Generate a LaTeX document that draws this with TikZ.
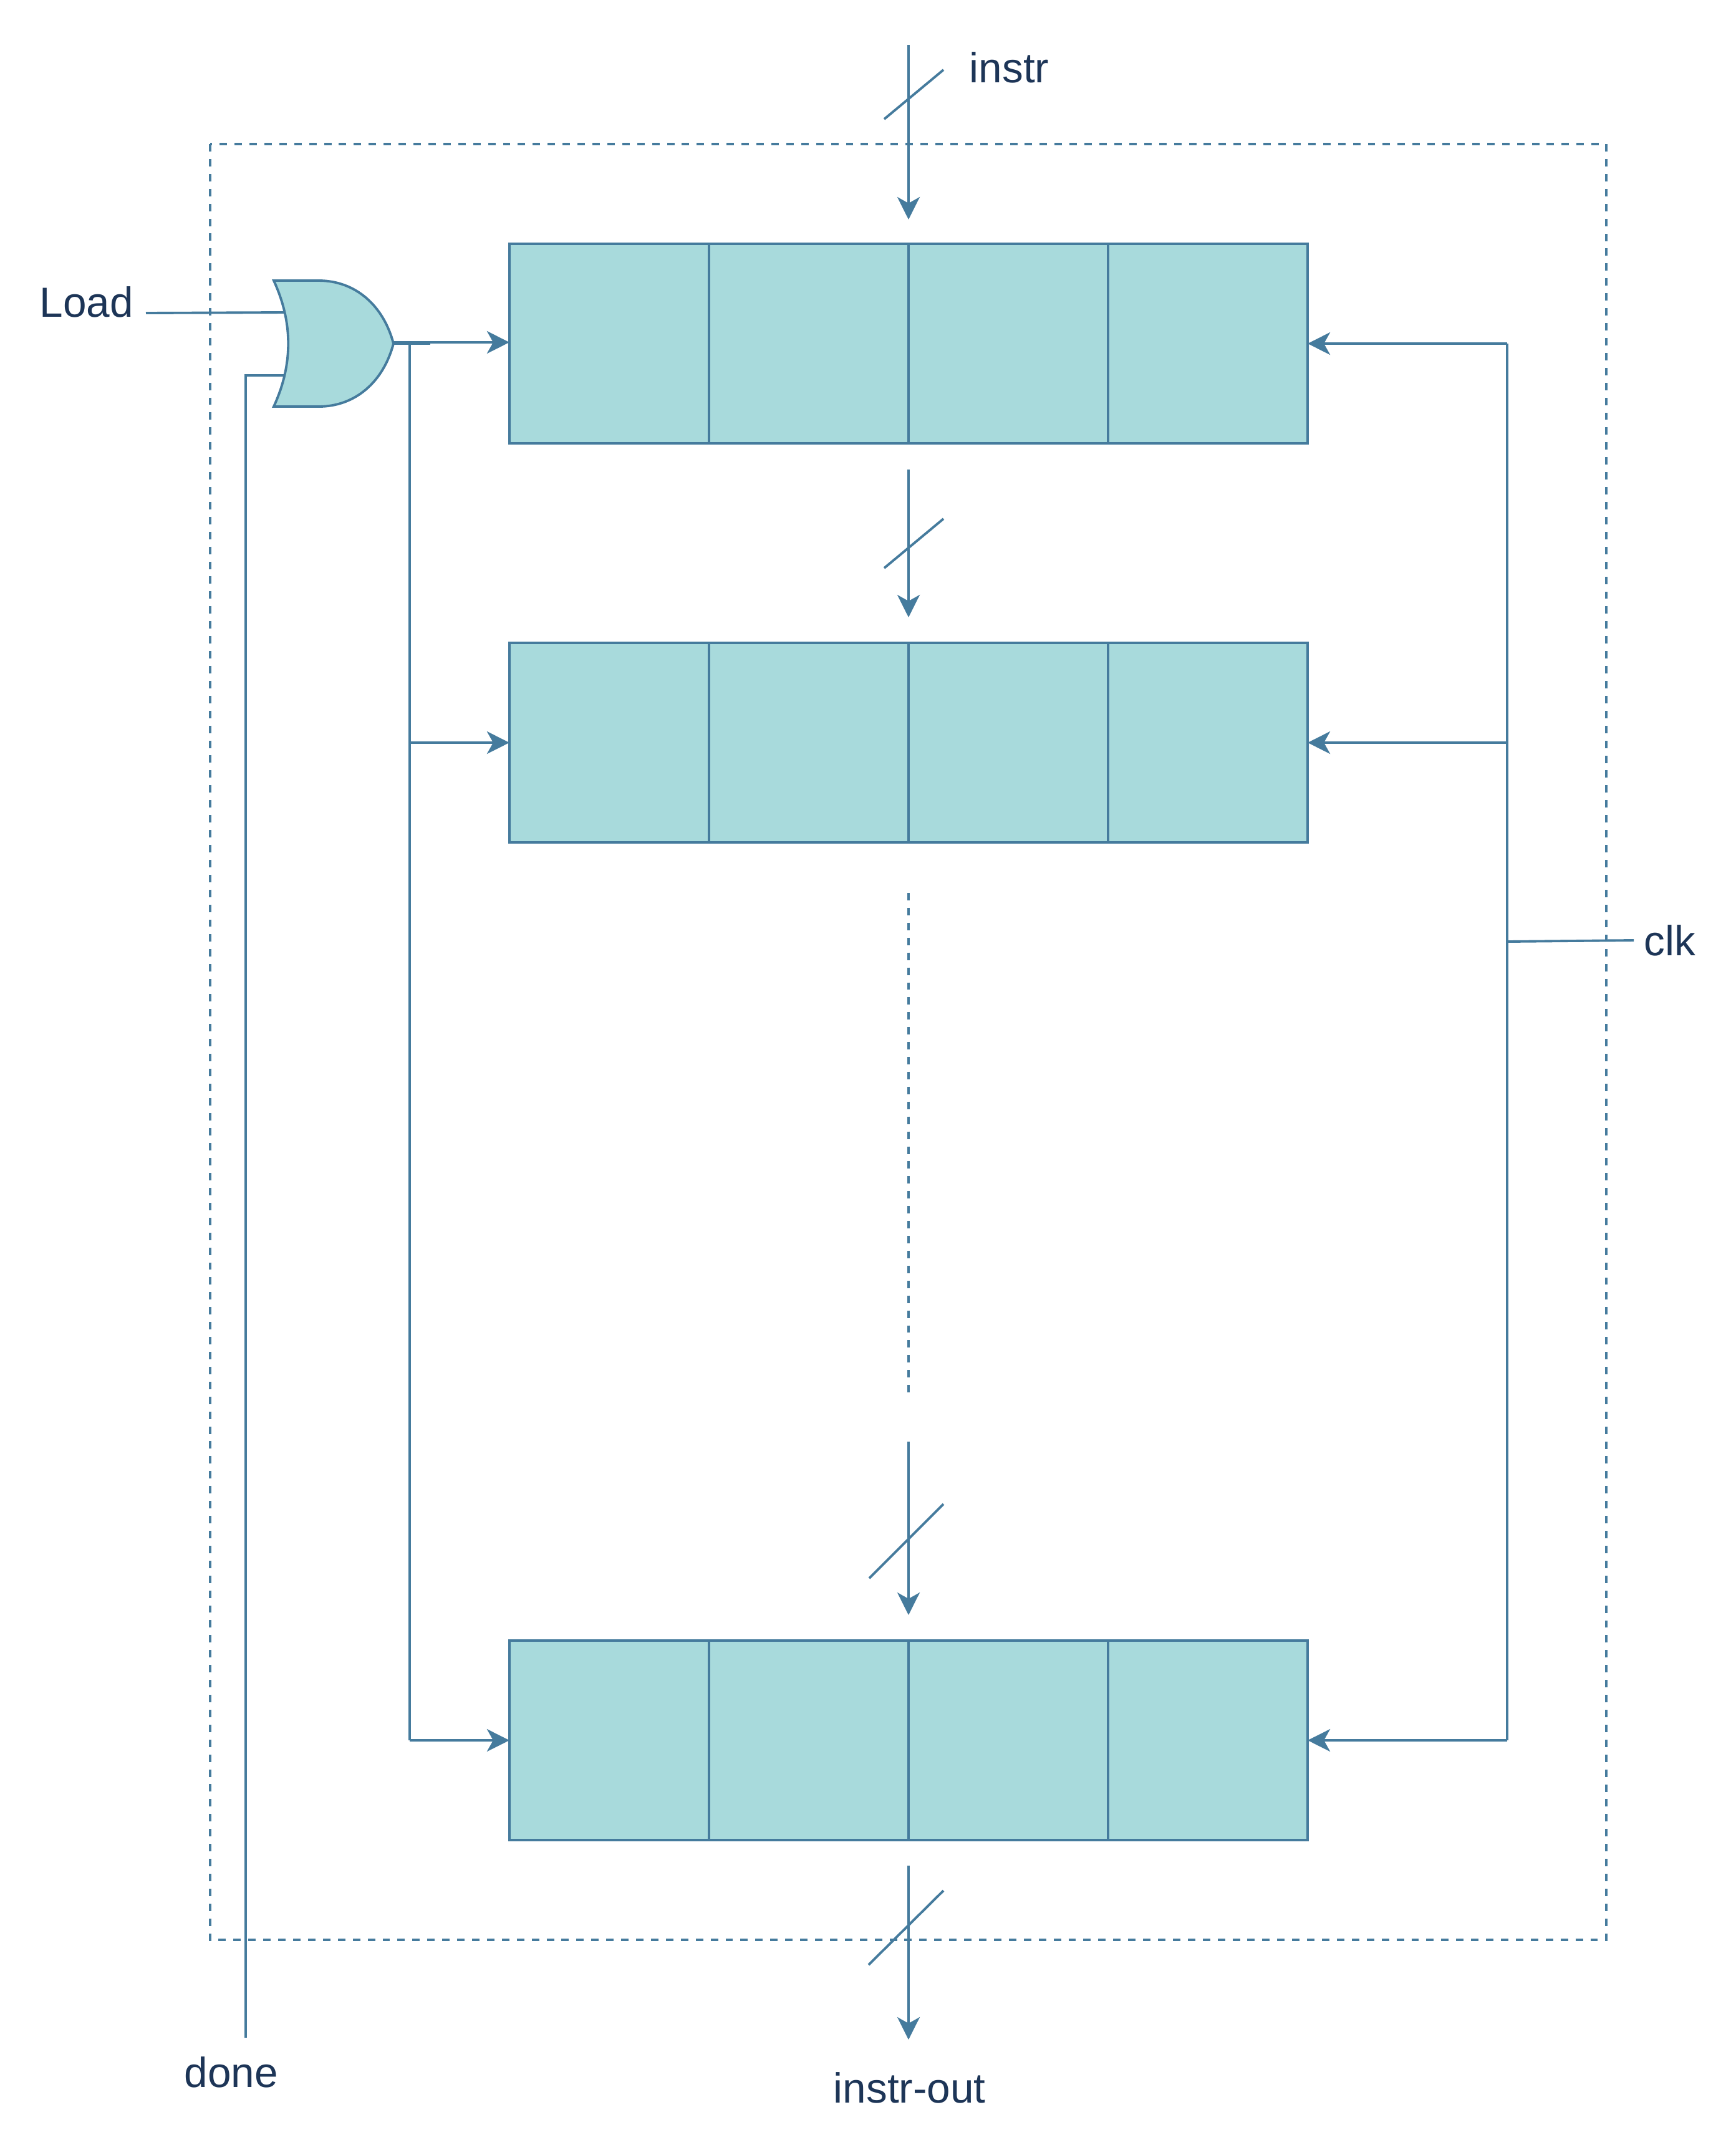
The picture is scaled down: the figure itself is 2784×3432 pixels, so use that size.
\documentclass[tikz,border=0pt]{standalone}
\usepackage{fontspec}
\setmainfont{Liberation Sans}
\usetikzlibrary{arrows.meta}
\definecolor{wirecol}{HTML}{457B9D}
\definecolor{cellcol}{HTML}{A8DADC}
\definecolor{textcol}{HTML}{1D3557}

\begin{document}
\begin{tikzpicture}[x=0.01cm, y=-0.01cm]
    % Setup the styles
    \tikzset{cell style/.style={draw=wirecol,
                                fill=cellcol,
                                line width=1.1pt,
                                minimum width=3.2cm,
                                minimum height=3.2cm,
                                outer sep=0pt},
             wire/.style={draw=wirecol,
                          line width=1.1pt,
                          >={Stealth[length=3.6mm,width=3.6mm,inset=1mm]}},
             dots/.style={wire,dash pattern=on 3.4pt off 3.4pt},
             label style/.style={text=textcol,
                                 anchor=base west,
                                 inner sep=0pt,
                                 font=\fontsize{19.2}{23}\selectfont}}
    \useasboundingbox (0,0) rectangle (2784,3432);
    % Draw the outer box
    \draw[dots] (337,231) rectangle (2576,3111);
    % Draw the registers
    \foreach \reg/\cy in {first/551, second/1191, last/2791}{
        \foreach \i/\cx in {1/977, 2/1297, 3/1617, 4/1937}{
            \node[cell style] at (\cx, \cy) (\reg\i) {};
        }
    }
    % Draw the gate
    \draw[wire, fill=cellcol] (439,450) -- (511,450)
        .. controls (570,450) and (615,490) .. (631,551)
        .. controls (615,612) and (570,652) .. (511,652)
        -- (439,652)
        .. controls (470,585) and (470,517) .. (439,450) -- cycle;
    \coordinate (gate in1) at (456,501);
    \coordinate (gate in2) at (456,602);
    \coordinate (gate out) at (631,551);
    % Draw the labels
    \node[label style] at (63,508) (load) {Load};
    \node[label style] at (1554,132) (instr) {instr};
    \node[label style] at (2636,1532) (clk) {clk};
    \node[label style] at (295,3347) (done) {done};
    \node[label style] at (1336,3372) (instrout) {instr-out};
    % Free ends of the wires
    \coordinate (load end) at (234,502);
    \coordinate (done end) at (394,3268);
    \coordinate (done turn) at (394,602);
    \coordinate (clk end) at (2620,1508);
    \coordinate (clk tap) at (2417,1510);
    \coordinate (clk top) at (2417,551);
    \coordinate (clk mid) at (2417,1191);
    \coordinate (clk bot) at (2417,2791);
    \coordinate (en top) at (657,551);
    \coordinate (en mid) at (657,1191);
    \coordinate (en bot) at (657,2791);
    \coordinate (stub end) at (690,551);
    % Connect the gate and the clock
    \draw[wire] (load end) -- (gate in1);
    \draw[wire] (done end) -- (done turn) -- (gate in2);
    \draw[wire] (gate out) -- (stub end);
    \draw[wire,->] (gate out |- 0,549) -- (first1.west |- 0,549);
    \draw[wire] (en top) -- (en bot);
    \draw[wire,->] (en mid) -- (second1.west);
    \draw[wire,->] (en bot) -- (last1.west);
    \draw[wire] (clk top) -- (clk bot);
    \draw[wire] (clk end) -- (clk tap);
    \draw[wire,->] (clk top) -- (first4.east);
    \draw[wire,->] (clk mid) -- (second4.east);
    \draw[wire,->] (clk bot) -- (last4.east);
    % Bus lines with their slashes
    \foreach \name/\ya/\yb/\xc/\yc/\yd in {a/72/352/1418/191/112,
                                           b/753/990/1418/911/832,
                                           c/2312/2590/1394/2531/2412,
                                           d/2992/3271/1393/3151/3032}{
        \coordinate (bus\name from) at (1457,\ya);
        \coordinate (bus\name to) at (1457,\yb);
        \coordinate (slash\name from) at (\xc,\yc);
        \coordinate (slash\name to) at (1513,\yd);
        \draw[wire,->] (bus\name from) -- (bus\name to);
        \draw[wire] (slash\name from) -- (slash\name to);
    }
    % The skipped registers
    \coordinate (gap top) at (1457,1432);
    \coordinate (gap bot) at (1457,2233);
    \draw[dots] (gap top) -- (gap bot);
\end{tikzpicture}
\end{document}
